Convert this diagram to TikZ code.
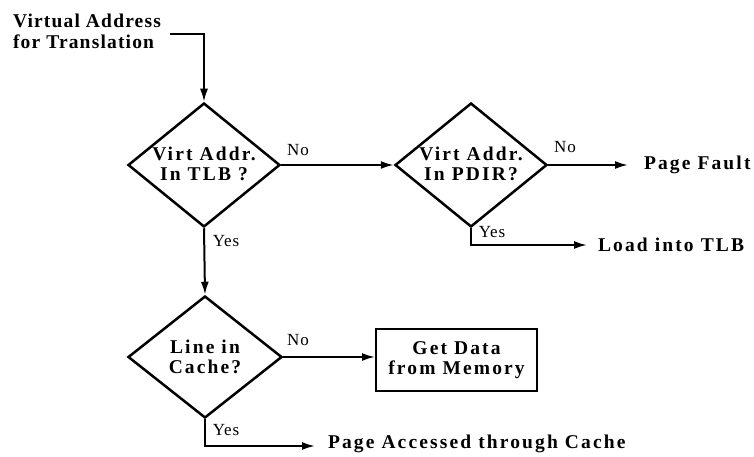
\documentclass[tikz,border=0pt]{standalone}
\usepackage{fontspec}
\setmainfont{Liberation Serif}[LetterSpace=11]
\newfontfamily\labelfont{Liberation Serif}[LetterSpace=5]
\newfontfamily\entryfont{Liberation Serif}[LetterSpace=6]
\usetikzlibrary{shapes.geometric,arrows.meta}
\begin{document}
\begin{tikzpicture}[x=1pt,y=-1pt,
  line width=2pt,
  every node/.style={inner sep=0pt},
  txt/.style={font=\fontsize{19.5}{20}\selectfont\bfseries, align=center},
  lbl/.style={font=\labelfont\fontsize{17}{18}\selectfont},
  arr/.style={-{Latex[length=13pt,width=8pt]}},
  decide/.style={draw, line width=2.5pt, diamond, minimum width=152pt, minimum height=124pt, inner sep=0pt}]
\useasboundingbox (0,0) rectangle (754,457);

% entry text
\node[font=\entryfont\fontsize{19.5}{21}\selectfont\bfseries, align=left, anchor=west] (start) at (12,31) {Virtual Address\\for Translation};
\coordinate (s1) at (170,34);

% decisions
\node[decide] (tlb) at (204,165) {};
\node[txt] (tlbt) at (204,164) {Virt Addr.\\In TLB ?};
\node[decide] (pdir) at (471,165) {};
\node[txt] (pdirt) at (471,164) {Virt Addr.\\In PDIR?};
\node[decide, minimum width=154pt, minimum height=122pt] (cache) at (205,357) {};
\node[txt] (cachet) at (205,357) {Line in\\Cache?};

% action box and outcomes
\node[draw, line width=2pt, minimum width=161pt, minimum height=62pt, txt] (mem) at (456.5,360) {Get Data\\from Memory};
\node[txt, anchor=west] (fault) at (643,165) {Page Fault};
\node[txt, anchor=west] (load) at (597,245) {Load into TLB};
\node[txt, anchor=west] (hit) at (327,444) {Page Accessed through Cache};
\coordinate (faultin) at ([xshift=-15pt]fault.west);
\coordinate (loadin) at ([xshift=-10pt]load.west);
\coordinate (hitin) at ([xshift=-12pt]hit.west);

% connectors
\draw[arr] (s1) -| (tlb.north);
\draw[arr] (tlb.east) -- (pdir.west);
\draw[arr] (tlb.south) -- (cache.north);
\draw[arr] (pdir.east) -- (faultin);
\draw[arr] (pdir.south) |- (loadin);
\draw[arr] (cache.east) -- (cache.east -| mem.west);
\draw[arr] (cache.south) |- (hitin |- 0,446);

% branch labels
\node[lbl] (n1) at (298,150) {No};
\node[lbl] (y1) at (226,241) {Yes};
\node[lbl] (n2) at (565,147) {No};
\node[lbl] (y2) at (492,232) {Yes};
\node[lbl] (n3) at (298,340) {No};
\node[lbl] (y3) at (226,430) {Yes};
\end{tikzpicture}
\end{document}
